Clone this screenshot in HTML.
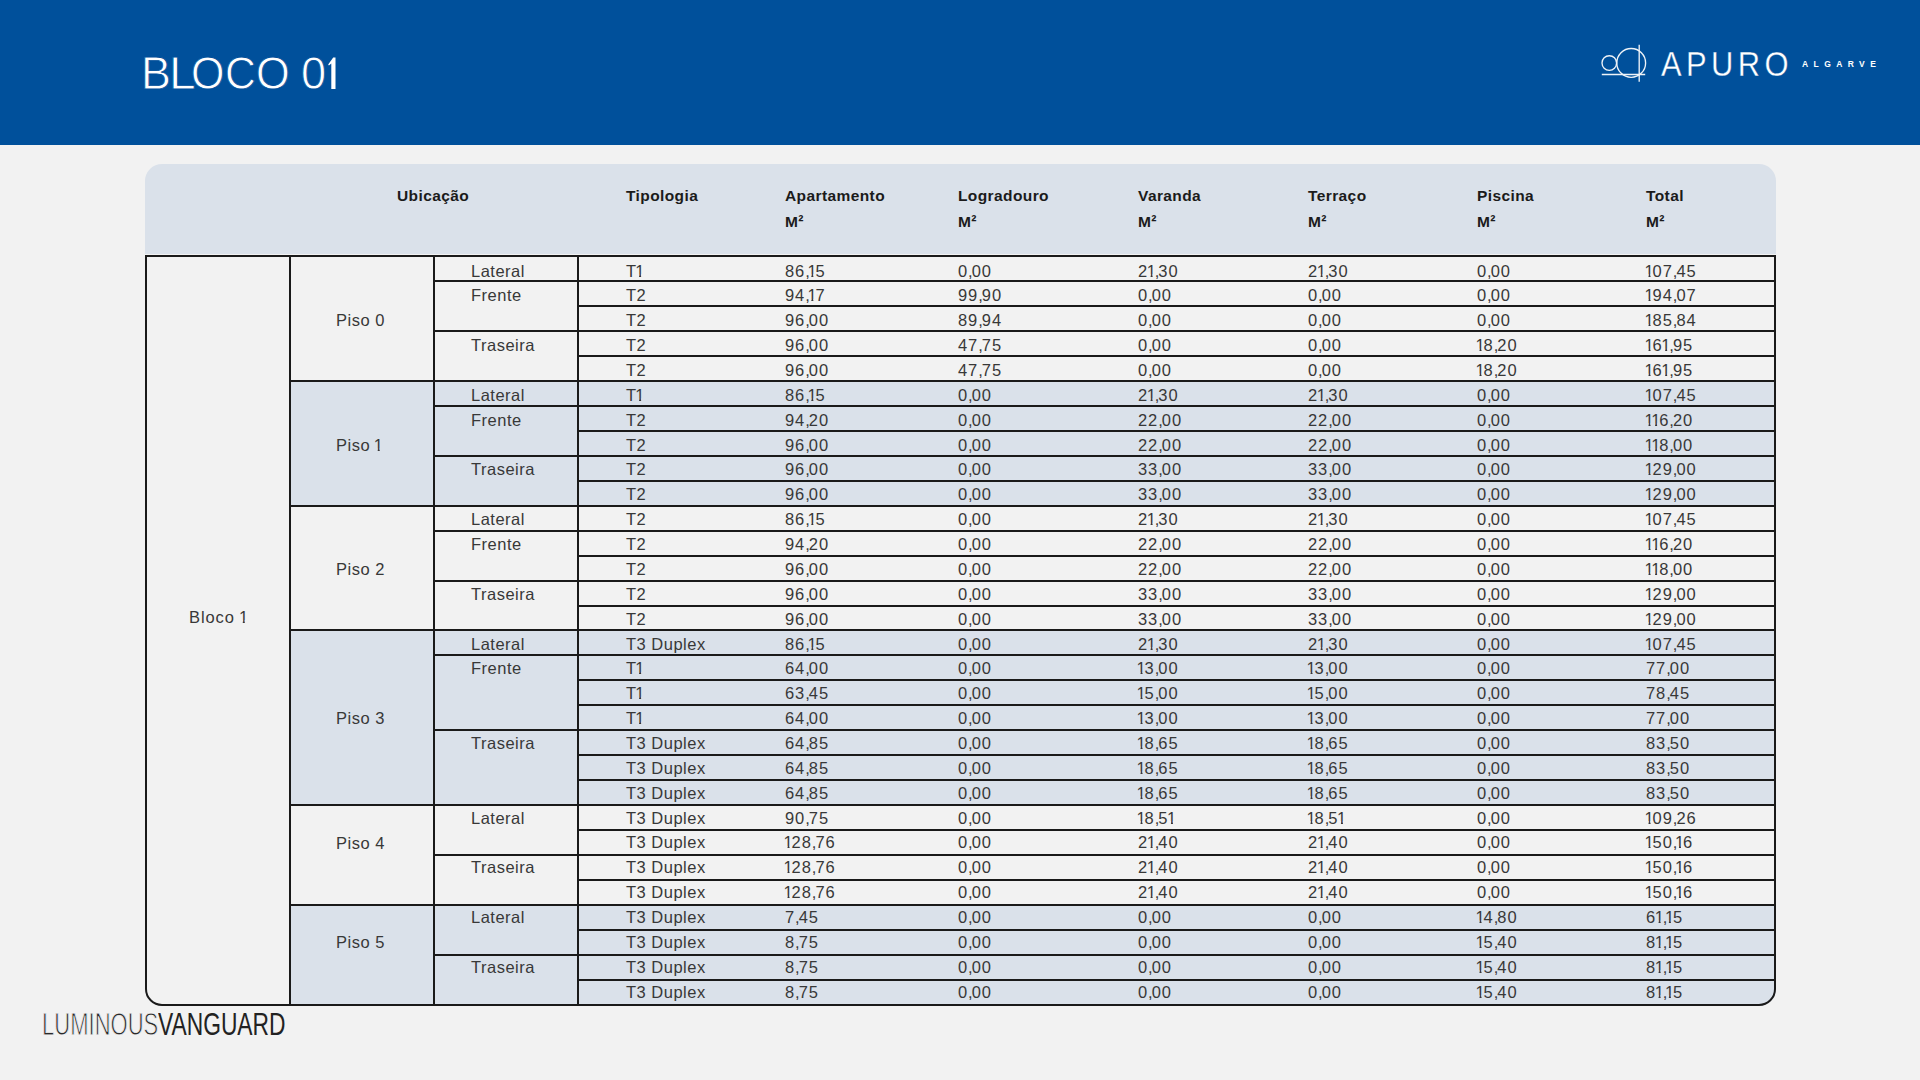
<!DOCTYPE html>
<html><head><meta charset="utf-8"><title>Bloco 01</title>
<style>
html,body{margin:0;padding:0;}
body{width:1920px;height:1080px;position:relative;overflow:hidden;background:#f2f2f2;font-family:"Liberation Sans",sans-serif;color:#222;}
.abs{position:absolute;}
.hdr{position:absolute;left:0;top:0;width:1920px;height:144.5px;background:#00509b;}
.title{position:absolute;top:47px;font-family:"Liberation Sans",sans-serif;font-size:46px;line-height:52px;-webkit-text-stroke:0.8px #00509b;color:#fff;white-space:nowrap;transform-origin:0 0;}
.thead{position:absolute;left:144.5px;top:164px;width:1631.5px;height:89.5px;background:#dae1ea;border-radius:17px 17px 0 0;}
.ht{position:absolute;font-weight:bold;font-size:15.5px;line-height:18px;color:#1b1b1b;white-space:nowrap;letter-spacing:0.4px;}
.t{position:absolute;font-size:16.5px;line-height:18px;color:#383838;white-space:nowrap;letter-spacing:-0.3px;}
.w{letter-spacing:0.5px;}
.n{letter-spacing:0.9px;}
i{font-style:normal;}
.o{display:inline-block;width:6.6px;letter-spacing:0;position:relative;left:-1.4px;clip-path:polygon(-3px -3px,12px -3px,12px 12.6px,5.9px 12.6px,5.9px 22px,3.9px 22px,3.9px 12.6px,-3px 12.6px);}
.c{letter-spacing:-0.9px;}
.ln{position:absolute;background:#1a1a1a;}
.sh{position:absolute;background:#dae1ea;}
.box{position:absolute;border:2px solid #1a1a1a;box-sizing:border-box;border-radius:0 0 17px 17px;}
.clip{position:absolute;overflow:hidden;border-radius:0 0 17px 17px;}
.lv{position:absolute;left:44px;top:1008px;font-size:29px;line-height:32px;color:#2a2a2a;white-space:nowrap;transform-origin:0 0;}
</style></head><body>
<div class="hdr"></div>
<div class="title" style="left:141.34px;transform:scaleX(0.976)">B</div>
<div class="title" style="left:168.89px;transform:scaleX(1.042)">L</div>
<div class="title" style="left:191.00px;transform:scaleX(0.934)">O</div>
<div class="title" style="left:224.92px;transform:scaleX(0.926)">C</div>
<div class="title" style="left:255.88px;transform:scaleX(0.941)">O</div>
<div class="title" style="left:300.78px;transform:scaleX(0.982)">0</div>
<svg class="abs" style="left:320px;top:50px" width="20" height="45" viewBox="320 50 20 45"><path fill="#fff" d="M331.3,89 L335.5,89 L335.5,57.5 L333.2,57.5 L328.2,64.6 L328.9,65.6 L331.3,63.6 Z"/></svg>

<svg class="abs" style="left:1590px;top:35px" width="300" height="60" viewBox="1590 35 300 60">
<g fill="none" stroke="#eef3f8" stroke-width="1.35">
<circle cx="1609.3" cy="63" r="7.3"/>
<circle cx="1631.2" cy="62.9" r="14.4"/>
<line x1="1639.2" y1="44.8" x2="1639.2" y2="81.7"/>
<line x1="1601.8" y1="74.5" x2="1645.2" y2="74.5"/>
</g>
</svg>
<div class="abs" id="apuro" style="left:1660.5px;top:43.7px;font-size:35.5px;line-height:40px;color:#fff;letter-spacing:5.1px;transform:scaleX(0.87);-webkit-text-stroke:0.35px #00509b;white-space:nowrap;transform-origin:0 0;">APURO</div>
<div class="abs" id="algarve" style="left:1802px;top:58px;font-size:8.5px;line-height:12px;font-weight:bold;color:#fff;letter-spacing:5.4px;white-space:nowrap;">ALGARVE</div>

<div class="thead"></div>
<div class="ht" style="left:397px;top:187px">Ubicação</div>
<div class="ht" style="left:626px;top:187px">Tipologia</div>
<div class="ht" style="left:785px;top:187px">Apartamento</div>
<div class="ht" style="left:785px;top:213px">M²</div>
<div class="ht" style="left:958px;top:187px">Logradouro</div>
<div class="ht" style="left:958px;top:213px">M²</div>
<div class="ht" style="left:1138px;top:187px">Varanda</div>
<div class="ht" style="left:1138px;top:213px">M²</div>
<div class="ht" style="left:1308px;top:187px">Terraço</div>
<div class="ht" style="left:1308px;top:213px">M²</div>
<div class="ht" style="left:1477px;top:187px">Piscina</div>
<div class="ht" style="left:1477px;top:213px">M²</div>
<div class="ht" style="left:1646px;top:187px">Total</div>
<div class="ht" style="left:1646px;top:213px">M²</div>
<div class="clip" style="left:144.5px;top:255.4px;width:1631.5px;height:750.20px">
<div class="sh" style="left:144.5px;top:124.70px;width:1487.0px;height:126.70px"></div>
<div class="sh" style="left:144.5px;top:374.10px;width:1487.0px;height:176.58px"></div>
<div class="sh" style="left:144.5px;top:648.44px;width:1487.0px;height:101.76px"></div>
<div class="ln" style="left:288.5px;top:24.94px;width:1343.0px;height:2.0px"></div>
<div class="ln" style="left:432.5px;top:49.88px;width:1199.0px;height:2.0px"></div>
<div class="ln" style="left:288.5px;top:74.82px;width:1343.0px;height:2.0px"></div>
<div class="ln" style="left:432.5px;top:99.76px;width:1199.0px;height:2.0px"></div>
<div class="ln" style="left:144.5px;top:124.70px;width:1487.0px;height:2.0px"></div>
<div class="ln" style="left:288.5px;top:149.64px;width:1343.0px;height:2.0px"></div>
<div class="ln" style="left:432.5px;top:174.58px;width:1199.0px;height:2.0px"></div>
<div class="ln" style="left:288.5px;top:199.52px;width:1343.0px;height:2.0px"></div>
<div class="ln" style="left:432.5px;top:224.46px;width:1199.0px;height:2.0px"></div>
<div class="ln" style="left:144.5px;top:249.40px;width:1487.0px;height:2.0px"></div>
<div class="ln" style="left:288.5px;top:274.34px;width:1343.0px;height:2.0px"></div>
<div class="ln" style="left:432.5px;top:299.28px;width:1199.0px;height:2.0px"></div>
<div class="ln" style="left:288.5px;top:324.22px;width:1343.0px;height:2.0px"></div>
<div class="ln" style="left:432.5px;top:349.16px;width:1199.0px;height:2.0px"></div>
<div class="ln" style="left:144.5px;top:374.10px;width:1487.0px;height:2.0px"></div>
<div class="ln" style="left:288.5px;top:399.04px;width:1343.0px;height:2.0px"></div>
<div class="ln" style="left:432.5px;top:423.98px;width:1199.0px;height:2.0px"></div>
<div class="ln" style="left:432.5px;top:448.92px;width:1199.0px;height:2.0px"></div>
<div class="ln" style="left:288.5px;top:473.86px;width:1343.0px;height:2.0px"></div>
<div class="ln" style="left:432.5px;top:498.80px;width:1199.0px;height:2.0px"></div>
<div class="ln" style="left:432.5px;top:523.74px;width:1199.0px;height:2.0px"></div>
<div class="ln" style="left:144.5px;top:548.68px;width:1487.0px;height:2.0px"></div>
<div class="ln" style="left:432.5px;top:573.62px;width:1199.0px;height:2.0px"></div>
<div class="ln" style="left:288.5px;top:598.56px;width:1343.0px;height:2.0px"></div>
<div class="ln" style="left:432.5px;top:623.50px;width:1199.0px;height:2.0px"></div>
<div class="ln" style="left:144.5px;top:648.44px;width:1487.0px;height:2.0px"></div>
<div class="ln" style="left:432.5px;top:673.38px;width:1199.0px;height:2.0px"></div>
<div class="ln" style="left:288.5px;top:698.32px;width:1343.0px;height:2.0px"></div>
<div class="ln" style="left:432.5px;top:723.26px;width:1199.0px;height:2.0px"></div>
<div class="ln" style="left:144.5px;top:0px;width:2.0px;height:750.20px"></div>
<div class="ln" style="left:288.5px;top:0px;width:2.0px;height:750.20px"></div>
<div class="ln" style="left:432.5px;top:0px;width:2.0px;height:750.20px"></div>
</div>
<div class="box" style="left:144.5px;top:255.4px;width:1631.5px;height:750.20px"></div>
<div class="t" style="left:189px;top:607.50px;letter-spacing:0.9px">Bloco <i class="o">1</i></div>
<div class="t w" style="left:336px;top:311.30px">Piso 0</div>
<div class="t w" style="left:336px;top:436.00px">Piso <i class="o">1</i></div>
<div class="t w" style="left:336px;top:560.40px">Piso 2</div>
<div class="t w" style="left:336px;top:709.40px">Piso 3</div>
<div class="t w" style="left:336px;top:833.80px">Piso 4</div>
<div class="t w" style="left:336px;top:932.90px">Piso 5</div>
<div class="t w" style="left:471px;top:261.60px">Lateral</div>
<div class="t w" style="left:471px;top:286.46px">Frente</div>
<div class="t w" style="left:471px;top:336.18px">Traseira</div>
<div class="t w" style="left:471px;top:385.90px">Lateral</div>
<div class="t w" style="left:471px;top:410.76px">Frente</div>
<div class="t w" style="left:471px;top:460.48px">Traseira</div>
<div class="t w" style="left:471px;top:510.20px">Lateral</div>
<div class="t w" style="left:471px;top:535.06px">Frente</div>
<div class="t w" style="left:471px;top:584.78px">Traseira</div>
<div class="t w" style="left:471px;top:634.50px">Lateral</div>
<div class="t w" style="left:471px;top:659.36px">Frente</div>
<div class="t w" style="left:471px;top:733.94px">Traseira</div>
<div class="t w" style="left:471px;top:808.52px">Lateral</div>
<div class="t w" style="left:471px;top:858.24px">Traseira</div>
<div class="t w" style="left:471px;top:907.96px">Lateral</div>
<div class="t w" style="left:471px;top:957.68px">Traseira</div>
<div class="t w" style="left:626px;top:261.60px">T<i class="o">1</i></div>
<div class="t n" style="left:785px;top:261.60px">86<i class="c">,</i><i class="o">1</i>5</div>
<div class="t n" style="left:958px;top:261.60px">0<i class="c">,</i>00</div>
<div class="t n" style="left:1138px;top:261.60px">2<i class="o">1</i><i class="c">,</i>30</div>
<div class="t n" style="left:1308px;top:261.60px">2<i class="o">1</i><i class="c">,</i>30</div>
<div class="t n" style="left:1477px;top:261.60px">0<i class="c">,</i>00</div>
<div class="t n" style="left:1646px;top:261.60px"><i class="o">1</i>07<i class="c">,</i>45</div>
<div class="t w" style="left:626px;top:286.46px">T2</div>
<div class="t n" style="left:785px;top:286.46px">94<i class="c">,</i><i class="o">1</i>7</div>
<div class="t n" style="left:958px;top:286.46px">99<i class="c">,</i>90</div>
<div class="t n" style="left:1138px;top:286.46px">0<i class="c">,</i>00</div>
<div class="t n" style="left:1308px;top:286.46px">0<i class="c">,</i>00</div>
<div class="t n" style="left:1477px;top:286.46px">0<i class="c">,</i>00</div>
<div class="t n" style="left:1646px;top:286.46px"><i class="o">1</i>94<i class="c">,</i>07</div>
<div class="t w" style="left:626px;top:311.32px">T2</div>
<div class="t n" style="left:785px;top:311.32px">96<i class="c">,</i>00</div>
<div class="t n" style="left:958px;top:311.32px">89<i class="c">,</i>94</div>
<div class="t n" style="left:1138px;top:311.32px">0<i class="c">,</i>00</div>
<div class="t n" style="left:1308px;top:311.32px">0<i class="c">,</i>00</div>
<div class="t n" style="left:1477px;top:311.32px">0<i class="c">,</i>00</div>
<div class="t n" style="left:1646px;top:311.32px"><i class="o">1</i>85<i class="c">,</i>84</div>
<div class="t w" style="left:626px;top:336.18px">T2</div>
<div class="t n" style="left:785px;top:336.18px">96<i class="c">,</i>00</div>
<div class="t n" style="left:958px;top:336.18px">47<i class="c">,</i>75</div>
<div class="t n" style="left:1138px;top:336.18px">0<i class="c">,</i>00</div>
<div class="t n" style="left:1308px;top:336.18px">0<i class="c">,</i>00</div>
<div class="t n" style="left:1477px;top:336.18px"><i class="o">1</i>8<i class="c">,</i>20</div>
<div class="t n" style="left:1646px;top:336.18px"><i class="o">1</i>6<i class="o">1</i><i class="c">,</i>95</div>
<div class="t w" style="left:626px;top:361.04px">T2</div>
<div class="t n" style="left:785px;top:361.04px">96<i class="c">,</i>00</div>
<div class="t n" style="left:958px;top:361.04px">47<i class="c">,</i>75</div>
<div class="t n" style="left:1138px;top:361.04px">0<i class="c">,</i>00</div>
<div class="t n" style="left:1308px;top:361.04px">0<i class="c">,</i>00</div>
<div class="t n" style="left:1477px;top:361.04px"><i class="o">1</i>8<i class="c">,</i>20</div>
<div class="t n" style="left:1646px;top:361.04px"><i class="o">1</i>6<i class="o">1</i><i class="c">,</i>95</div>
<div class="t w" style="left:626px;top:385.90px">T<i class="o">1</i></div>
<div class="t n" style="left:785px;top:385.90px">86<i class="c">,</i><i class="o">1</i>5</div>
<div class="t n" style="left:958px;top:385.90px">0<i class="c">,</i>00</div>
<div class="t n" style="left:1138px;top:385.90px">2<i class="o">1</i><i class="c">,</i>30</div>
<div class="t n" style="left:1308px;top:385.90px">2<i class="o">1</i><i class="c">,</i>30</div>
<div class="t n" style="left:1477px;top:385.90px">0<i class="c">,</i>00</div>
<div class="t n" style="left:1646px;top:385.90px"><i class="o">1</i>07<i class="c">,</i>45</div>
<div class="t w" style="left:626px;top:410.76px">T2</div>
<div class="t n" style="left:785px;top:410.76px">94<i class="c">,</i>20</div>
<div class="t n" style="left:958px;top:410.76px">0<i class="c">,</i>00</div>
<div class="t n" style="left:1138px;top:410.76px">22<i class="c">,</i>00</div>
<div class="t n" style="left:1308px;top:410.76px">22<i class="c">,</i>00</div>
<div class="t n" style="left:1477px;top:410.76px">0<i class="c">,</i>00</div>
<div class="t n" style="left:1646px;top:410.76px"><i class="o">1</i><i class="o">1</i>6<i class="c">,</i>20</div>
<div class="t w" style="left:626px;top:435.62px">T2</div>
<div class="t n" style="left:785px;top:435.62px">96<i class="c">,</i>00</div>
<div class="t n" style="left:958px;top:435.62px">0<i class="c">,</i>00</div>
<div class="t n" style="left:1138px;top:435.62px">22<i class="c">,</i>00</div>
<div class="t n" style="left:1308px;top:435.62px">22<i class="c">,</i>00</div>
<div class="t n" style="left:1477px;top:435.62px">0<i class="c">,</i>00</div>
<div class="t n" style="left:1646px;top:435.62px"><i class="o">1</i><i class="o">1</i>8<i class="c">,</i>00</div>
<div class="t w" style="left:626px;top:460.48px">T2</div>
<div class="t n" style="left:785px;top:460.48px">96<i class="c">,</i>00</div>
<div class="t n" style="left:958px;top:460.48px">0<i class="c">,</i>00</div>
<div class="t n" style="left:1138px;top:460.48px">33<i class="c">,</i>00</div>
<div class="t n" style="left:1308px;top:460.48px">33<i class="c">,</i>00</div>
<div class="t n" style="left:1477px;top:460.48px">0<i class="c">,</i>00</div>
<div class="t n" style="left:1646px;top:460.48px"><i class="o">1</i>29<i class="c">,</i>00</div>
<div class="t w" style="left:626px;top:485.34px">T2</div>
<div class="t n" style="left:785px;top:485.34px">96<i class="c">,</i>00</div>
<div class="t n" style="left:958px;top:485.34px">0<i class="c">,</i>00</div>
<div class="t n" style="left:1138px;top:485.34px">33<i class="c">,</i>00</div>
<div class="t n" style="left:1308px;top:485.34px">33<i class="c">,</i>00</div>
<div class="t n" style="left:1477px;top:485.34px">0<i class="c">,</i>00</div>
<div class="t n" style="left:1646px;top:485.34px"><i class="o">1</i>29<i class="c">,</i>00</div>
<div class="t w" style="left:626px;top:510.20px">T2</div>
<div class="t n" style="left:785px;top:510.20px">86<i class="c">,</i><i class="o">1</i>5</div>
<div class="t n" style="left:958px;top:510.20px">0<i class="c">,</i>00</div>
<div class="t n" style="left:1138px;top:510.20px">2<i class="o">1</i><i class="c">,</i>30</div>
<div class="t n" style="left:1308px;top:510.20px">2<i class="o">1</i><i class="c">,</i>30</div>
<div class="t n" style="left:1477px;top:510.20px">0<i class="c">,</i>00</div>
<div class="t n" style="left:1646px;top:510.20px"><i class="o">1</i>07<i class="c">,</i>45</div>
<div class="t w" style="left:626px;top:535.06px">T2</div>
<div class="t n" style="left:785px;top:535.06px">94<i class="c">,</i>20</div>
<div class="t n" style="left:958px;top:535.06px">0<i class="c">,</i>00</div>
<div class="t n" style="left:1138px;top:535.06px">22<i class="c">,</i>00</div>
<div class="t n" style="left:1308px;top:535.06px">22<i class="c">,</i>00</div>
<div class="t n" style="left:1477px;top:535.06px">0<i class="c">,</i>00</div>
<div class="t n" style="left:1646px;top:535.06px"><i class="o">1</i><i class="o">1</i>6<i class="c">,</i>20</div>
<div class="t w" style="left:626px;top:559.92px">T2</div>
<div class="t n" style="left:785px;top:559.92px">96<i class="c">,</i>00</div>
<div class="t n" style="left:958px;top:559.92px">0<i class="c">,</i>00</div>
<div class="t n" style="left:1138px;top:559.92px">22<i class="c">,</i>00</div>
<div class="t n" style="left:1308px;top:559.92px">22<i class="c">,</i>00</div>
<div class="t n" style="left:1477px;top:559.92px">0<i class="c">,</i>00</div>
<div class="t n" style="left:1646px;top:559.92px"><i class="o">1</i><i class="o">1</i>8<i class="c">,</i>00</div>
<div class="t w" style="left:626px;top:584.78px">T2</div>
<div class="t n" style="left:785px;top:584.78px">96<i class="c">,</i>00</div>
<div class="t n" style="left:958px;top:584.78px">0<i class="c">,</i>00</div>
<div class="t n" style="left:1138px;top:584.78px">33<i class="c">,</i>00</div>
<div class="t n" style="left:1308px;top:584.78px">33<i class="c">,</i>00</div>
<div class="t n" style="left:1477px;top:584.78px">0<i class="c">,</i>00</div>
<div class="t n" style="left:1646px;top:584.78px"><i class="o">1</i>29<i class="c">,</i>00</div>
<div class="t w" style="left:626px;top:609.64px">T2</div>
<div class="t n" style="left:785px;top:609.64px">96<i class="c">,</i>00</div>
<div class="t n" style="left:958px;top:609.64px">0<i class="c">,</i>00</div>
<div class="t n" style="left:1138px;top:609.64px">33<i class="c">,</i>00</div>
<div class="t n" style="left:1308px;top:609.64px">33<i class="c">,</i>00</div>
<div class="t n" style="left:1477px;top:609.64px">0<i class="c">,</i>00</div>
<div class="t n" style="left:1646px;top:609.64px"><i class="o">1</i>29<i class="c">,</i>00</div>
<div class="t w" style="left:626px;top:634.50px">T3 Duplex</div>
<div class="t n" style="left:785px;top:634.50px">86<i class="c">,</i><i class="o">1</i>5</div>
<div class="t n" style="left:958px;top:634.50px">0<i class="c">,</i>00</div>
<div class="t n" style="left:1138px;top:634.50px">2<i class="o">1</i><i class="c">,</i>30</div>
<div class="t n" style="left:1308px;top:634.50px">2<i class="o">1</i><i class="c">,</i>30</div>
<div class="t n" style="left:1477px;top:634.50px">0<i class="c">,</i>00</div>
<div class="t n" style="left:1646px;top:634.50px"><i class="o">1</i>07<i class="c">,</i>45</div>
<div class="t w" style="left:626px;top:659.36px">T<i class="o">1</i></div>
<div class="t n" style="left:785px;top:659.36px">64<i class="c">,</i>00</div>
<div class="t n" style="left:958px;top:659.36px">0<i class="c">,</i>00</div>
<div class="t n" style="left:1138px;top:659.36px"><i class="o">1</i>3<i class="c">,</i>00</div>
<div class="t n" style="left:1308px;top:659.36px"><i class="o">1</i>3<i class="c">,</i>00</div>
<div class="t n" style="left:1477px;top:659.36px">0<i class="c">,</i>00</div>
<div class="t n" style="left:1646px;top:659.36px">77<i class="c">,</i>00</div>
<div class="t w" style="left:626px;top:684.22px">T<i class="o">1</i></div>
<div class="t n" style="left:785px;top:684.22px">63<i class="c">,</i>45</div>
<div class="t n" style="left:958px;top:684.22px">0<i class="c">,</i>00</div>
<div class="t n" style="left:1138px;top:684.22px"><i class="o">1</i>5<i class="c">,</i>00</div>
<div class="t n" style="left:1308px;top:684.22px"><i class="o">1</i>5<i class="c">,</i>00</div>
<div class="t n" style="left:1477px;top:684.22px">0<i class="c">,</i>00</div>
<div class="t n" style="left:1646px;top:684.22px">78<i class="c">,</i>45</div>
<div class="t w" style="left:626px;top:709.08px">T<i class="o">1</i></div>
<div class="t n" style="left:785px;top:709.08px">64<i class="c">,</i>00</div>
<div class="t n" style="left:958px;top:709.08px">0<i class="c">,</i>00</div>
<div class="t n" style="left:1138px;top:709.08px"><i class="o">1</i>3<i class="c">,</i>00</div>
<div class="t n" style="left:1308px;top:709.08px"><i class="o">1</i>3<i class="c">,</i>00</div>
<div class="t n" style="left:1477px;top:709.08px">0<i class="c">,</i>00</div>
<div class="t n" style="left:1646px;top:709.08px">77<i class="c">,</i>00</div>
<div class="t w" style="left:626px;top:733.94px">T3 Duplex</div>
<div class="t n" style="left:785px;top:733.94px">64<i class="c">,</i>85</div>
<div class="t n" style="left:958px;top:733.94px">0<i class="c">,</i>00</div>
<div class="t n" style="left:1138px;top:733.94px"><i class="o">1</i>8<i class="c">,</i>65</div>
<div class="t n" style="left:1308px;top:733.94px"><i class="o">1</i>8<i class="c">,</i>65</div>
<div class="t n" style="left:1477px;top:733.94px">0<i class="c">,</i>00</div>
<div class="t n" style="left:1646px;top:733.94px">83<i class="c">,</i>50</div>
<div class="t w" style="left:626px;top:758.80px">T3 Duplex</div>
<div class="t n" style="left:785px;top:758.80px">64<i class="c">,</i>85</div>
<div class="t n" style="left:958px;top:758.80px">0<i class="c">,</i>00</div>
<div class="t n" style="left:1138px;top:758.80px"><i class="o">1</i>8<i class="c">,</i>65</div>
<div class="t n" style="left:1308px;top:758.80px"><i class="o">1</i>8<i class="c">,</i>65</div>
<div class="t n" style="left:1477px;top:758.80px">0<i class="c">,</i>00</div>
<div class="t n" style="left:1646px;top:758.80px">83<i class="c">,</i>50</div>
<div class="t w" style="left:626px;top:783.66px">T3 Duplex</div>
<div class="t n" style="left:785px;top:783.66px">64<i class="c">,</i>85</div>
<div class="t n" style="left:958px;top:783.66px">0<i class="c">,</i>00</div>
<div class="t n" style="left:1138px;top:783.66px"><i class="o">1</i>8<i class="c">,</i>65</div>
<div class="t n" style="left:1308px;top:783.66px"><i class="o">1</i>8<i class="c">,</i>65</div>
<div class="t n" style="left:1477px;top:783.66px">0<i class="c">,</i>00</div>
<div class="t n" style="left:1646px;top:783.66px">83<i class="c">,</i>50</div>
<div class="t w" style="left:626px;top:808.52px">T3 Duplex</div>
<div class="t n" style="left:785px;top:808.52px">90<i class="c">,</i>75</div>
<div class="t n" style="left:958px;top:808.52px">0<i class="c">,</i>00</div>
<div class="t n" style="left:1138px;top:808.52px"><i class="o">1</i>8<i class="c">,</i>5<i class="o">1</i></div>
<div class="t n" style="left:1308px;top:808.52px"><i class="o">1</i>8<i class="c">,</i>5<i class="o">1</i></div>
<div class="t n" style="left:1477px;top:808.52px">0<i class="c">,</i>00</div>
<div class="t n" style="left:1646px;top:808.52px"><i class="o">1</i>09<i class="c">,</i>26</div>
<div class="t w" style="left:626px;top:833.38px">T3 Duplex</div>
<div class="t n" style="left:785px;top:833.38px"><i class="o">1</i>28<i class="c">,</i>76</div>
<div class="t n" style="left:958px;top:833.38px">0<i class="c">,</i>00</div>
<div class="t n" style="left:1138px;top:833.38px">2<i class="o">1</i><i class="c">,</i>40</div>
<div class="t n" style="left:1308px;top:833.38px">2<i class="o">1</i><i class="c">,</i>40</div>
<div class="t n" style="left:1477px;top:833.38px">0<i class="c">,</i>00</div>
<div class="t n" style="left:1646px;top:833.38px"><i class="o">1</i>50<i class="c">,</i><i class="o">1</i>6</div>
<div class="t w" style="left:626px;top:858.24px">T3 Duplex</div>
<div class="t n" style="left:785px;top:858.24px"><i class="o">1</i>28<i class="c">,</i>76</div>
<div class="t n" style="left:958px;top:858.24px">0<i class="c">,</i>00</div>
<div class="t n" style="left:1138px;top:858.24px">2<i class="o">1</i><i class="c">,</i>40</div>
<div class="t n" style="left:1308px;top:858.24px">2<i class="o">1</i><i class="c">,</i>40</div>
<div class="t n" style="left:1477px;top:858.24px">0<i class="c">,</i>00</div>
<div class="t n" style="left:1646px;top:858.24px"><i class="o">1</i>50<i class="c">,</i><i class="o">1</i>6</div>
<div class="t w" style="left:626px;top:883.10px">T3 Duplex</div>
<div class="t n" style="left:785px;top:883.10px"><i class="o">1</i>28<i class="c">,</i>76</div>
<div class="t n" style="left:958px;top:883.10px">0<i class="c">,</i>00</div>
<div class="t n" style="left:1138px;top:883.10px">2<i class="o">1</i><i class="c">,</i>40</div>
<div class="t n" style="left:1308px;top:883.10px">2<i class="o">1</i><i class="c">,</i>40</div>
<div class="t n" style="left:1477px;top:883.10px">0<i class="c">,</i>00</div>
<div class="t n" style="left:1646px;top:883.10px"><i class="o">1</i>50<i class="c">,</i><i class="o">1</i>6</div>
<div class="t w" style="left:626px;top:907.96px">T3 Duplex</div>
<div class="t n" style="left:785px;top:907.96px">7<i class="c">,</i>45</div>
<div class="t n" style="left:958px;top:907.96px">0<i class="c">,</i>00</div>
<div class="t n" style="left:1138px;top:907.96px">0<i class="c">,</i>00</div>
<div class="t n" style="left:1308px;top:907.96px">0<i class="c">,</i>00</div>
<div class="t n" style="left:1477px;top:907.96px"><i class="o">1</i>4<i class="c">,</i>80</div>
<div class="t n" style="left:1646px;top:907.96px">6<i class="o">1</i><i class="c">,</i><i class="o">1</i>5</div>
<div class="t w" style="left:626px;top:932.82px">T3 Duplex</div>
<div class="t n" style="left:785px;top:932.82px">8<i class="c">,</i>75</div>
<div class="t n" style="left:958px;top:932.82px">0<i class="c">,</i>00</div>
<div class="t n" style="left:1138px;top:932.82px">0<i class="c">,</i>00</div>
<div class="t n" style="left:1308px;top:932.82px">0<i class="c">,</i>00</div>
<div class="t n" style="left:1477px;top:932.82px"><i class="o">1</i>5<i class="c">,</i>40</div>
<div class="t n" style="left:1646px;top:932.82px">8<i class="o">1</i><i class="c">,</i><i class="o">1</i>5</div>
<div class="t w" style="left:626px;top:957.68px">T3 Duplex</div>
<div class="t n" style="left:785px;top:957.68px">8<i class="c">,</i>75</div>
<div class="t n" style="left:958px;top:957.68px">0<i class="c">,</i>00</div>
<div class="t n" style="left:1138px;top:957.68px">0<i class="c">,</i>00</div>
<div class="t n" style="left:1308px;top:957.68px">0<i class="c">,</i>00</div>
<div class="t n" style="left:1477px;top:957.68px"><i class="o">1</i>5<i class="c">,</i>40</div>
<div class="t n" style="left:1646px;top:957.68px">8<i class="o">1</i><i class="c">,</i><i class="o">1</i>5</div>
<div class="t w" style="left:626px;top:982.54px">T3 Duplex</div>
<div class="t n" style="left:785px;top:982.54px">8<i class="c">,</i>75</div>
<div class="t n" style="left:958px;top:982.54px">0<i class="c">,</i>00</div>
<div class="t n" style="left:1138px;top:982.54px">0<i class="c">,</i>00</div>
<div class="t n" style="left:1308px;top:982.54px">0<i class="c">,</i>00</div>
<div class="t n" style="left:1477px;top:982.54px"><i class="o">1</i>5<i class="c">,</i>40</div>
<div class="t n" style="left:1646px;top:982.54px">8<i class="o">1</i><i class="c">,</i><i class="o">1</i>5</div>
<div class="lv" id="lv1" style="left:42px;top:1008px;font-size:30.6px;transform:scaleX(0.72);color:#2a2a2a;-webkit-text-stroke:0.9px #f2f2f2">LUMINOUS</div>
<div class="lv" id="lv2" style="left:158px;top:1008px;font-size:30.6px;transform:scaleX(0.745);color:#222">VANGUARD</div>
</body></html>
